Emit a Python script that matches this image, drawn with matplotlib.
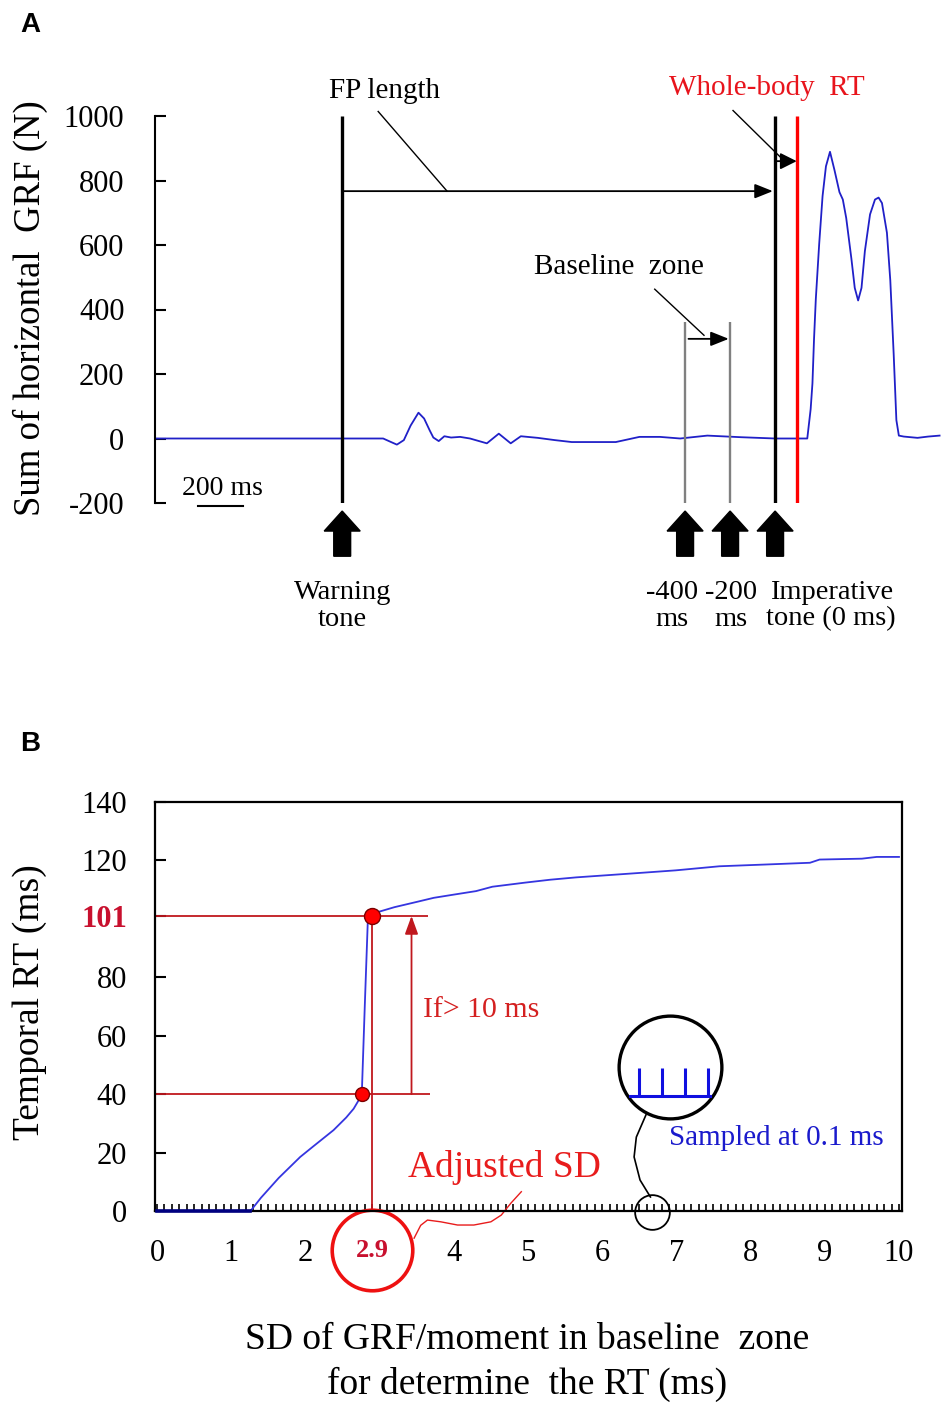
import numpy as np
import matplotlib
matplotlib.use("Agg")
import matplotlib.pyplot as plt
from matplotlib.patches import FancyArrow
from matplotlib.ticker import MultipleLocator

plt.rcParams["font.family"] = ["Liberation Serif", "DejaVu Serif"]
plt.rcParams["axes.unicode_minus"] = False

# ── Panel A data: horizontal GRF trace (time in ms relative to imperative tone) ──
grf_t = [-2756, -1742, -1710, -1681, -1650, -1620, -1585, -1560, -1535, -1519,
         -1495, -1470, -1440, -1400, -1356, -1281, -1228, -1175, -1130, -1055,
         -979, -904, -708, -603, -512, -422, -301, -151, 0, 143,
         158, 166, 173, 181, 196, 211, 226, 244, 264, 286,
         301, 316, 339, 354, 369, 384, 399, 422, 444, 460,
         475, 497, 512, 527, 539, 550, 572, 633, 680, 731]
grf_f = [0, 0, -10, -19, -5, 40, 80, 62, 25, 3,
         -8, 7, 3, 5, 0, -15, 15, -15, 7, 2,
         -5, -11, -11, 5, 5, 0, 9, 4, 0, 0,
         91, 171, 308, 433, 604, 752, 844, 889, 832, 764,
         741, 684, 558, 467, 428, 467, 581, 695, 741, 747,
         730, 638, 490, 262, 57, 9, 6, 2, 6, 9]

warning_t = -1924
imperative_t = 0
rt_t = 98
baseline_t = [-400, -200]
y_ticks_a = [-200, 0, 200, 400, 600, 800, 1000]

# ── Panel B data: temporal RT vs SD threshold ──
sd_x = [0, 1.26, 1.4, 1.64, 1.93, 2.1, 2.38, 2.55, 2.65, 2.72, 2.76,
        2.80, 2.84, 2.9, 3.0, 3.2, 3.5, 3.73, 4.0, 4.3, 4.52, 4.96,
        5.3, 5.65, 6.1, 6.55, 6.99, 7.58, 8.2, 8.8, 8.93, 9.5, 9.7, 10.0]
rt_ms = [0, 0, 4.5, 11.3, 18.5, 22, 27.7, 32, 35, 38, 40,
         70, 98.6, 101, 102.5, 104, 105.8, 107.2, 108.3, 109.5, 111, 112.4,
         113.4, 114.2, 115, 115.8, 116.6, 118, 118.6, 119.2, 120.3, 120.6, 121.2, 121.2]
low_pt = (2.76, 40)
high_pt = (2.9, 101)
adjusted_sd = 2.9
y_ticks_b = [0, 20, 40, 60, 80, 101, 120, 140]
x_ticks_b = [0, 1, 2, 4, 5, 6, 7, 8, 9, 10]

fig = plt.figure(figsize=(9.5, 14.16), dpi=100)
W, H = 950, 1416


def px_box(l, t, r, b):
    return [l / W, 1 - b / H, (r - l) / W, (b - t) / H]


# ── Panel A ───────────────────────────────────────────────────────────────────
axA = fig.add_axes(px_box(155, 116, 942, 503))
axA.set_xlim(-2756, -2756 + 787 * 200 / 45)
axA.set_ylim(-200, 1000)
for s in ["top", "right", "bottom"]:
    axA.spines[s].set_visible(False)
axA.spines["left"].set_linewidth(1.5)
axA.set_xticks([])
axA.set_yticks(y_ticks_a)
axA.tick_params(axis="y", direction="in", length=8, width=1.5, labelsize=22, pad=22)

axA.plot(grf_t, grf_f, color="#2020c8", lw=1.3, zorder=2)
axA.vlines([warning_t, imperative_t], -200, 1000, color="black", lw=2.4, zorder=3)
axA.vlines(rt_t, -200, 1000, color="#ff0000", lw=2.4, zorder=3)
axA.vlines(baseline_t, -200, 360, color="#808080", lw=1.7, zorder=3)

# FP length arrow
axA.annotate("", xy=(-10, 767), xytext=(warning_t, 767),
             arrowprops=dict(arrowstyle="-|>,head_length=0.55,head_width=0.22",
                             color="black", lw=1.3, mutation_scale=20,
                             shrinkA=0, shrinkB=0))
axA.text(-1738, 1079, "FP length", fontsize=21, ha="center", va="center")
axA.plot([-1764, -1458], [1014, 767], color="black", lw=1, clip_on=False)

# Whole-body RT arrow
axA.annotate("", xy=(rt_t - 2, 860), xytext=(imperative_t + 8, 860),
             arrowprops=dict(arrowstyle="-|>,head_length=0.5,head_width=0.25",
                             color="black", lw=1.3, mutation_scale=20,
                             shrinkA=0, shrinkB=0))
axA.text(-38, 1088, "Whole-body  RT", fontsize=21, color="#e8141c",
         ha="center", va="center")
axA.plot([-187, 30], [1017, 868], color="black", lw=1, clip_on=False)

# Baseline zone arrow
axA.annotate("", xy=(-206, 309), xytext=(-385, 309),
             arrowprops=dict(arrowstyle="-|>,head_length=0.55,head_width=0.22",
                             color="black", lw=1.3, mutation_scale=20,
                             shrinkA=0, shrinkB=0))
axA.text(-693, 532, "Baseline  zone", fontsize=21, ha="center", va="center")
axA.plot([-535, -316], [463, 320], color="black", lw=1, clip_on=False)

# 200 ms scale bar
axA.plot([-2564, -2364], [-208, -208], color="black", lw=1.5, clip_on=False)
axA.text(-2458, -174, "200 ms", fontsize=20, ha="center", va="baseline")

# block arrows marking tones
for t in [warning_t] + baseline_t + [imperative_t]:
    axA.add_patch(FancyArrow(t, -365, 0, 140, width=75, head_width=160,
                             head_length=62, length_includes_head=True,
                             color="black", clip_on=False))

labels_below = [(warning_t, "Warning", "tone"), (-460, "-400", "ms"),
                (-195, "-200", "ms"), (249, "Imperative", "tone (0 ms)")]
for t, l1, l2 in labels_below:
    axA.text(t, -499, l1, fontsize=20.5, ha="center", va="baseline", clip_on=False)
    axA.text(t, -580, l2, fontsize=20.5, ha="center", va="baseline", clip_on=False)

fig.text(30 / W, 1 - 308 / H, "Sum of horizontal  GRF (N)", fontsize=26.5,
         rotation=90, ha="center", va="center")
fig.text(20 / W, 1 - 32 / H, "A", fontsize=20, fontweight="bold",
         family="Liberation Sans", va="baseline")

# ── Panel B ───────────────────────────────────────────────────────────────────
axB = fig.add_axes(px_box(155, 802, 902, 1211))
axB.set_xlim(-2 / 74, 745 / 74 - 2 / 74)
axB.set_ylim(0, 140)
for s in axB.spines.values():
    s.set_linewidth(1.6)
axB.set_yticks(y_ticks_b)
axB.set_xticks(x_ticks_b)
axB.xaxis.set_minor_locator(MultipleLocator(0.1))
axB.tick_params(axis="y", direction="in", length=8, width=1.5, labelsize=22, pad=20)
axB.tick_params(axis="x", which="both", direction="in", length=5, width=1.2,
                labelsize=22, pad=20)
lab101 = axB.get_yticklabels()[y_ticks_b.index(101)]
lab101.set_color("#c8102e")
lab101.set_fontweight("bold")

red_dark = "#c0181e"
axB.hlines([high_pt[1], low_pt[1]], -2 / 74, [3.65, 3.68], color=red_dark, lw=1.3, zorder=2)
axB.vlines(adjusted_sd, 0, high_pt[1], color=red_dark, lw=1.3, zorder=2)
axB.annotate("", xy=(3.43, high_pt[1]), xytext=(3.43, low_pt[1]),
             arrowprops=dict(arrowstyle="-|>,head_length=0.55,head_width=0.2",
                             color=red_dark, lw=1.3, mutation_scale=20,
                             shrinkA=0, shrinkB=0))

sd_arr = np.array(sd_x)
rt_arr = np.array(rt_ms)
axB.plot(sd_arr, rt_arr, color="#3535e0", lw=1.3, zorder=3)
flat = rt_arr == 0
axB.plot(sd_arr[flat], rt_arr[flat], color="#000080", lw=2.6, zorder=3, clip_on=False)
axB.plot(*low_pt, "o", ms=10, mfc="#ff0000", mec="#7a0000", mew=1, zorder=4)
axB.plot(*high_pt, "o", ms=11.5, mfc="#ff0000", mec="#7a0000", mew=1, zorder=4)

axB.text(3.58, 66.4, "If> 10 ms", fontsize=21.5, color="#d42020", va="baseline")
axB.text(3.38, 11.6, "Adjusted SD", fontsize=27, color="#e81c1c", va="baseline")

# circled adjusted SD on the x axis
axB.plot(adjusted_sd, -13.4, "o", ms=58, mfc="none", mec="#ee1111", mew=2.6, clip_on=False)
axB.text(adjusted_sd, -13.4, "2.9", fontsize=19, fontweight="bold", color="#c8102e",
         ha="center", va="center", clip_on=False)
squig_x = [3.465, 3.554, 3.645, 3.824, 4.05, 4.27, 4.5, 4.64, 4.77, 4.91]
squig_y = [-9.3, -4.9, -3.1, -3.7, -4.8, -4.8, -3.7, -1.4, 2.7, 6.6]
axB.plot(squig_x, squig_y, color="#e81c1c", lw=1, clip_on=False)

# magnifier for 0.1 ms sampling
axB.plot(6.67, -0.3, "o", ms=25, mfc="none", mec="black", mew=1.3, clip_on=False)
axB.plot(6.92, 49.4, "o", ms=74, mfc="none", mec="black", mew=2.4)
conn_x = [6.65, 6.51, 6.43, 6.46, 6.59]
conn_y = [4.8, 10.6, 18.5, 25.3, 32.9]
axB.plot(conn_x, conn_y, color="black", lw=1.2)
axB.plot([6.38, 7.45], [39.4, 39.4], color="#1010e0", lw=2.2)
axB.vlines([6.50, 6.81, 7.12, 7.42], 39.4, 49.0, color="#1010e0", lw=2.2)
axB.text(6.905, 22.6, "Sampled at 0.1 ms", fontsize=21, color="#1a1acc", va="baseline")

fig.text(30 / W, 1 - 1002 / H, "Temporal RT (ms)", fontsize=27,
         rotation=90, ha="center", va="center")
fig.text(527 / W, 1 - 1349 / H, "SD of GRF/moment in baseline  zone", fontsize=27,
         ha="center", va="baseline")
fig.text(527 / W, 1 - 1394 / H, "for determine  the RT (ms)", fontsize=27,
         ha="center", va="baseline")
fig.text(20 / W, 1 - 751 / H, "B", fontsize=20, fontweight="bold",
         family="Liberation Sans", va="baseline")

fig.savefig("out.png", dpi=100)
